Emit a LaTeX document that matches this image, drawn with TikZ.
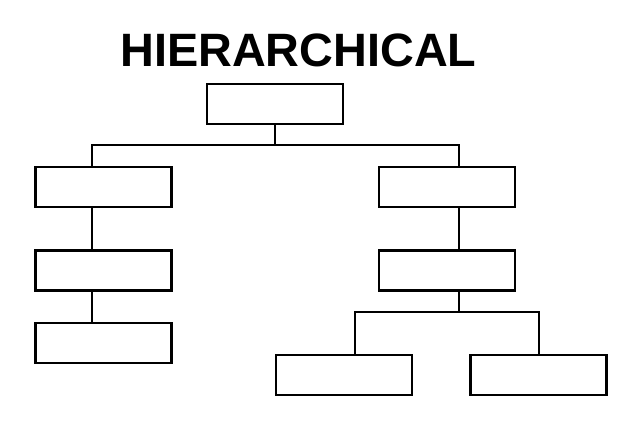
\documentclass[tikz,border=0pt]{standalone}
\usepackage{fontspec}
\newfontfamily\headfont{Liberation Sans}
\usepackage{tikz}

\tikzset{
  box/.style={draw, rectangle, line width=2.4pt, minimum width=136pt, minimum height=40pt, inner sep=0pt},
  link/.style={draw, line width=2pt}
}

\begin{document}
\begin{tikzpicture}[x=1pt, y=-1pt]
            \useasboundingbox (0,0) rectangle (627,427);
            \node[anchor=base, font=\headfont\bfseries\fontsize{46.8}{56}\selectfont] (title) at (298.4,67) {HIERARCHICAL};

            \node[box] (root) at (275,104) {};
            \node[box] (left1) at (103.5,187) {};
            \node[box] (left2) at (103.5,270.5) {};
            \node[box] (left3) at (103.5,343) {};
            \node[box] (right1) at (446.8,187) {};
            \node[box] (right2) at (446.8,270.5) {};
            \node[box] (leaf1) at (343.8,375) {};
            \node[box] (leaf2) at (538.6,375) {};

            \coordinate (split) at (275,145.3);
            \coordinate (split2) at (458.5,312.3);

            \draw[link] (root.south) -- (split);
            \draw[link] ([xshift=-11.5pt]left1.north) |- (split) -| ([xshift=11.7pt]right1.north);
            \draw[link] ([xshift=-11.5pt]left1.south) -- ([xshift=-11.5pt]left2.north);
            \draw[link] ([xshift=-11.5pt]left2.south) -- ([xshift=-11.5pt]left3.north);
            \draw[link] ([xshift=11.7pt]right1.south) -- ([xshift=11.7pt]right2.north);
            \draw[link] ([xshift=11.7pt]right2.south) -- (split2);
            \draw[link] ([xshift=11.6pt]leaf1.north) |- (split2) -| (leaf2.north);
        \end{tikzpicture}
\end{document}
